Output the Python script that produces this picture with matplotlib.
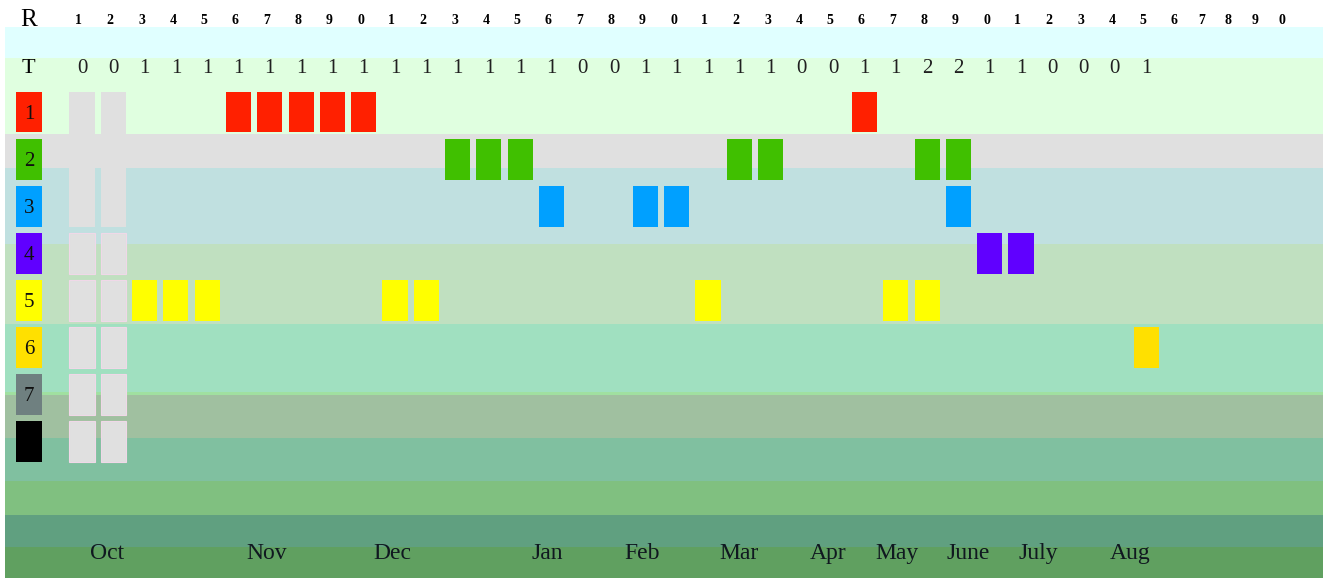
import numpy as np
import matplotlib
matplotlib.use("Agg")
import matplotlib.pyplot as plt
from matplotlib.patches import Rectangle

# round numbers shown in the header row (last digit only)
rounds = list(range(1, 41))
# totals per round (T row)
totals = [0, 0, 1, 1, 1, 1, 1, 1, 1, 1, 1, 1, 1, 1, 1, 1, 0, 0, 1, 1,
          1, 1, 1, 0, 0, 1, 1, 2, 2, 1, 1, 0, 0, 0, 1]

# rows 1..8 and their colours
row_ids = [1, 2, 3, 4, 5, 6, 7, 8]
row_colors = ["#ff2000", "#40c000", "#00a0ff", "#6000ff",
              "#ffff00", "#ffe000", "#6f8080", "#000000"]
row_labels = ["1", "2", "3", "4", "5", "6", "7", ""]

# which rounds each row was active
active = {
    1: [6, 7, 8, 9, 10, 26],
    2: [13, 14, 15, 22, 23, 28, 29],
    3: [16, 19, 20, 29],
    4: [30, 31],
    5: [3, 4, 5, 11, 12, 21, 27, 28],
    6: [35],
    7: [],
    8: [],
}
# rounds before start (gray cells)
blank_rounds = [1, 2]

months = ["Oct", "Nov", "Dec", "Jan", "Feb", "Mar", "Apr", "May", "June", "July", "Aug"]
month_pos = [1.8, 6.9, 10.9, 15.85, 18.9, 22.0, 24.85, 27.05, 29.3, 31.55, 34.5]

W, H = 1323, 578
fig = plt.figure(figsize=(W / 100, H / 100), dpi=100)

# background bands, in pixel space
bg = fig.add_axes([0, 0, 1, 1])
bg.set_xlim(0, W)
bg.set_ylim(H, 0)
bg.axis("off")
bands = [(27, 58, "#e0ffff"), (58, 134, "#e0ffe0"), (134, 168, "#e0e0e0"),
         (168, 244, "#c0e0e0"), (244, 324, "#c0e0c0"), (324, 392, "#a0e0c0"),
         (392, 395, "#a0e0a0"), (395, 438, "#a0c0a0"), (438, 481, "#80c0a0"),
         (481, 515, "#80c080"), (515, 547, "#60a080"), (547, H, "#60a060")]
for y0, y1, c in bands:
    bg.add_patch(Rectangle((5, y0), W - 5, y1 - y0, color=c, lw=0))

# data axes: x = round index, y = row index
px_col, px_row = 31.3, 47.1
x1_px, y1_px = 82, 112
ax = fig.add_axes([0, 0, 1, 1])
ax.patch.set_alpha(0)
ax.axis("off")
ax.set_xlim(1 - x1_px / px_col, 1 + (W - x1_px) / px_col)
ax.set_ylim(1 + (H - y1_px) / px_row, 1 - y1_px / px_row)

bw, bh = 0.8, 0.87
serif = "Liberation Serif"

# header row R
r_x = np.concatenate([np.arange(1, 37), 36 + 0.86 * np.arange(1, 5)]) - 0.1
ax.text(-0.7, -0.95, "R", fontsize=18, family=serif, ha="center", va="center")
for x, r in zip(r_x, rounds):
    ax.text(x, -0.95, str(r % 10), fontsize=10, fontweight="bold", family=serif,
            ha="center", va="center")

# totals row T
ax.text(-0.7, 0.07, "T", fontsize=16, family=serif, ha="center", va="center")
for i, t in enumerate(totals):
    ax.text(i + 1, 0.07, str(t), fontsize=15, family=serif, color="#202020",
            ha="center", va="center")

# row label squares
for r, c, lab in zip(row_ids, row_colors, row_labels):
    ax.add_patch(Rectangle((-0.69 - 0.42, r - bh / 2), 0.84, bh, color=c, lw=0))
    ax.text(-0.69, r + 0.05, lab, fontsize=15, family=serif, color="#101010",
            ha="center", va="center")

# gray pre-start cells
for b in blank_rounds:
    ax.add_patch(Rectangle((b - bw / 2, 1 - bh / 2), bw, 2 + bh, color="#e0e0e0", lw=0))
    for r in row_ids[3:]:
        ax.add_patch(Rectangle((b - bw / 2, r - bh / 2), bw, bh, facecolor="#e0e0e0",
                               edgecolor="#f0d8e8", lw=0.8))

# active cells
for r, c in zip(row_ids, row_colors):
    for x in active[r]:
        ax.add_patch(Rectangle((x - bw / 2, r - bh / 2), bw, bh, color=c, lw=0))

# month labels
for m, x in zip(months, month_pos):
    ax.text(x, 10.38, m, fontsize=17, family=serif, color="#101820",
            ha="center", va="center")

fig.savefig("out.png", dpi=100)
